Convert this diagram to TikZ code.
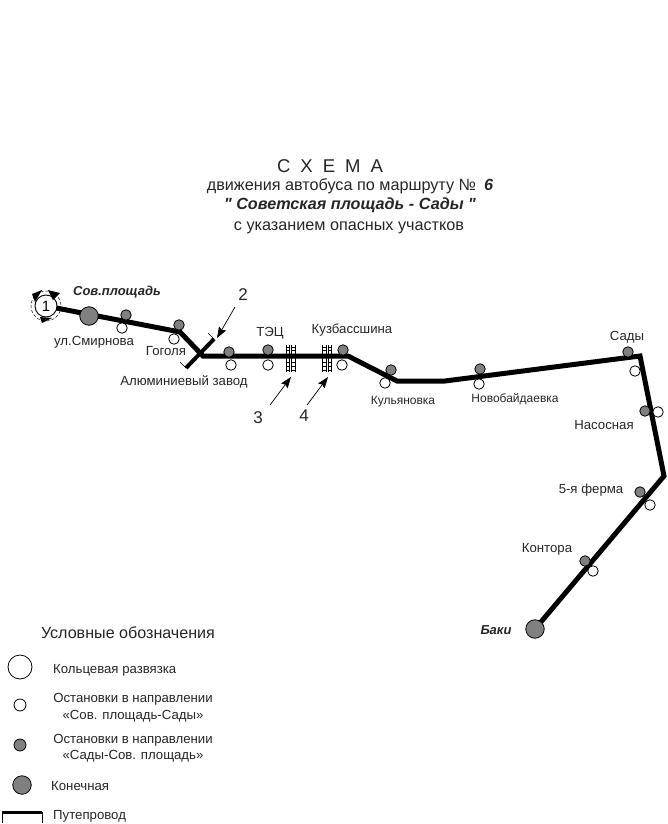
\documentclass[tikz,border=0pt]{standalone}
\usepackage{fontspec}
\setmainfont{Liberation Sans}
\newfontfamily\plainfam{Liberation Sans}
\usetikzlibrary{arrows.meta}
\tikzset{
 route/.style={line width=5pt,line join=miter,black},
 lbl/.style={font=\fontsize{13.2}{15}\selectfont,text=black!85,inner sep=0pt,yshift=-1.3pt},
 smalllbl/.style={lbl,font=\fontsize{12}{14}\selectfont},
 ttl/.style={font=\fontsize{16.2}{18}\selectfont,inner sep=0pt,text=black!85},
 legtext/.style={font=\fontsize{13.2}{16.5}\selectfont,inner sep=0pt,text=black!85,align=center},
 bold/.style={font=\fontsize{13}{15}\selectfont\bfseries\itshape,inner sep=0pt,text=black!85,yshift=-1.5pt},
 stopA/.style={circle,draw=black,line width=0.8pt,fill=white,minimum size=10.5pt,inner sep=0pt},
 stopB/.style={circle,draw=black,line width=0.8pt,fill=black!50,minimum size=10.5pt,inner sep=0pt},
 term/.style={circle,draw=black,line width=0.8pt,fill=black!50,minimum size=18.5pt,inner sep=0pt},
 ptr/.style={line width=0.7pt,-{Stealth[length=11pt,width=8pt,inset=1.5pt]}},
 tick/.style={line width=0.7pt},
 hatch/.style={line width=0.9pt},
}
\begin{document}
\begin{tikzpicture}[x=1pt,y=-1pt]
\useasboundingbox (0,0) rectangle (667,824);
% title
\node[font=\fontsize{18.5}{20}\selectfont,text=black!85,inner sep=0pt] (t1) at (330,166) {С\hspace{10pt}Х\hspace{10pt}Е\hspace{10pt}М\hspace{10pt}А};
\node[ttl] (t2) at (350,186) {движения автобуса по маршруту №\hspace{8pt}\textbf{\textit{6}}};
\node[ttl,font=\fontsize{16.2}{18}\selectfont\plainfam\bfseries\itshape] (t3) at (350,205) {" Советская площадь - Сады "};
\node[ttl] (t4) at (349,227.5) {с указанием опасных участков};
% route
\coordinate (r0) at (46,306);
\coordinate (r1) at (180,332);
\coordinate (r2) at (203,356);
\coordinate (r3) at (348,356);
\coordinate (r4) at (397,381);
\coordinate (r5) at (445,381);
\coordinate (r6) at (640,356);
\coordinate (r7) at (664,476);
\coordinate (r8) at (535,629);
% overpass
\coordinate (o1) at (186,368);
\coordinate (o2) at (214,339);
\coordinate (o1t) at (180,362);
\coordinate (o2t) at (208,333);
\draw[route] (r0) -- (r1) -- (r2) -- (r3) -- (r4) -- (r5) -- (r6) -- (r7) -- (r8);
\draw[route,line width=4pt] (o1) -- (o2);
\draw[tick] (o1) -- (o1t);
\draw[tick] (o2) -- (o2t);
% ring
\draw[line width=0.5pt,densely dashed] (46,306) circle (15);
\node[circle,draw=black,line width=0.9pt,fill=white,minimum size=22pt,inner sep=0pt,font=\fontsize{15}{17}\selectfont] (ring) at (46,306) {1};
\fill (32,294) -- (42,290) -- (35,302) -- cycle;
\fill (48,290) -- (60,293) -- (53,300) -- cycle;
\fill (40,317) -- (52,318) -- (42,323) -- cycle;
% terminals
\node[term] (A) at (89,316) {};
\node[term] (B) at (535,629) {};
% stops
\foreach \n/\x/\y in {s1/126/315,s2/179/325,s3/229/352,s4/268/350,s5/343/350,s6/391/370,s7/480/369,s8/628/352,s9/645/411,s10/640/492,s11/585/561}
  \node[stopB] (\n) at (\x,\y) {};
\foreach \n/\x/\y in {a1/122/328,a2/174/339,a3/231/365,a4/268/365,a5/342/365,a6/385/383,a7/479/384,a8/635/371,a9/658/412,a10/650/505,a11/593/571}
  \node[stopA] (\n) at (\x,\y) {};
% labels
\node[bold] at (117,291) {Сов.площадь};
\node[lbl] at (94,341) {ул.Смирнова};
\node[lbl] at (166,350) {Гоголя};
\node[lbl] at (184,381) {Алюминиевый завод};
\node[lbl] at (270,332) {ТЭЦ};
\node[lbl] at (352,329) {Кузбассшина};
\node[smalllbl] at (403,400) {Кульяновка};
\node[smalllbl] at (515,398) {Новобайдаевка};
\node[lbl] at (627,336) {Сады};
\node[lbl] at (604,424) {Насосная};
\node[lbl] at (591,489) {5-я ферма};
\node[lbl] at (547,548) {Контора};
\node[bold] at (496,629) {Баки};
% overpass hatches
\foreach \c in {290.5,327}{
 \foreach \dx in {-4.5,-1,1,4.5}{
  \draw[hatch] (\c+\dx,345) -- (\c+\dx,372);
 }
 \foreach \yy in {347,350.5,362.5,366,370}{
  \draw[hatch] (\c-4.5,\yy) -- (\c-1,\yy);
  \draw[hatch] (\c+1,\yy) -- (\c+4.5,\yy);
 }
}
% pointers
\coordinate (p2s) at (235,307); \coordinate (p2e) at (217,338);
\coordinate (p3s) at (270,405); \coordinate (p3e) at (291,377);
\coordinate (p4s) at (307,405); \coordinate (p4e) at (328,377);
\draw[ptr] (p2s) -- (p2e);
\draw[ptr] (p3s) -- (p3e);
\draw[ptr] (p4s) -- (p4e);
\node[ttl,font=\fontsize{17}{19}\selectfont] at (243,295) {2};
\node[ttl,font=\fontsize{17}{19}\selectfont] at (258,418) {3};
\node[ttl,font=\fontsize{17}{19}\selectfont] at (304,416) {4};
% legend
\node[ttl,font=\fontsize{16.1}{18}\selectfont] at (128,633) {Условные обозначения};
\node[circle,draw=black,line width=0.8pt,fill=white,minimum size=24pt,inner sep=0pt] (l1) at (20,667) {};
\node[stopA,minimum size=12pt] (l2) at (20,705) {};
\node[stopB,minimum size=12pt] (l3) at (20,745) {};
\node[term] (l4) at (22,785) {};
\node[legtext,anchor=west] at (53,670) {Кольцевая развязка};
\node[legtext] at (133,707.5) {Остановки в направлении\\«Сов. площадь-Сады»};
\node[legtext] at (133,748) {Остановки в направлении\\«Сады-Сов. площадь»};
\node[legtext,anchor=west] at (51,786) {Конечная};
\node[legtext,anchor=west] at (53,816.5) {Путепровод};
\coordinate (l5a) at (2,812); \coordinate (l5b) at (42,812);
\draw[line width=3pt] (l5a) -- (l5b);
\draw[tick] (2,812) -- (2,823);
\draw[tick] (42,812) -- (42,823);
\end{tikzpicture}
\end{document}
